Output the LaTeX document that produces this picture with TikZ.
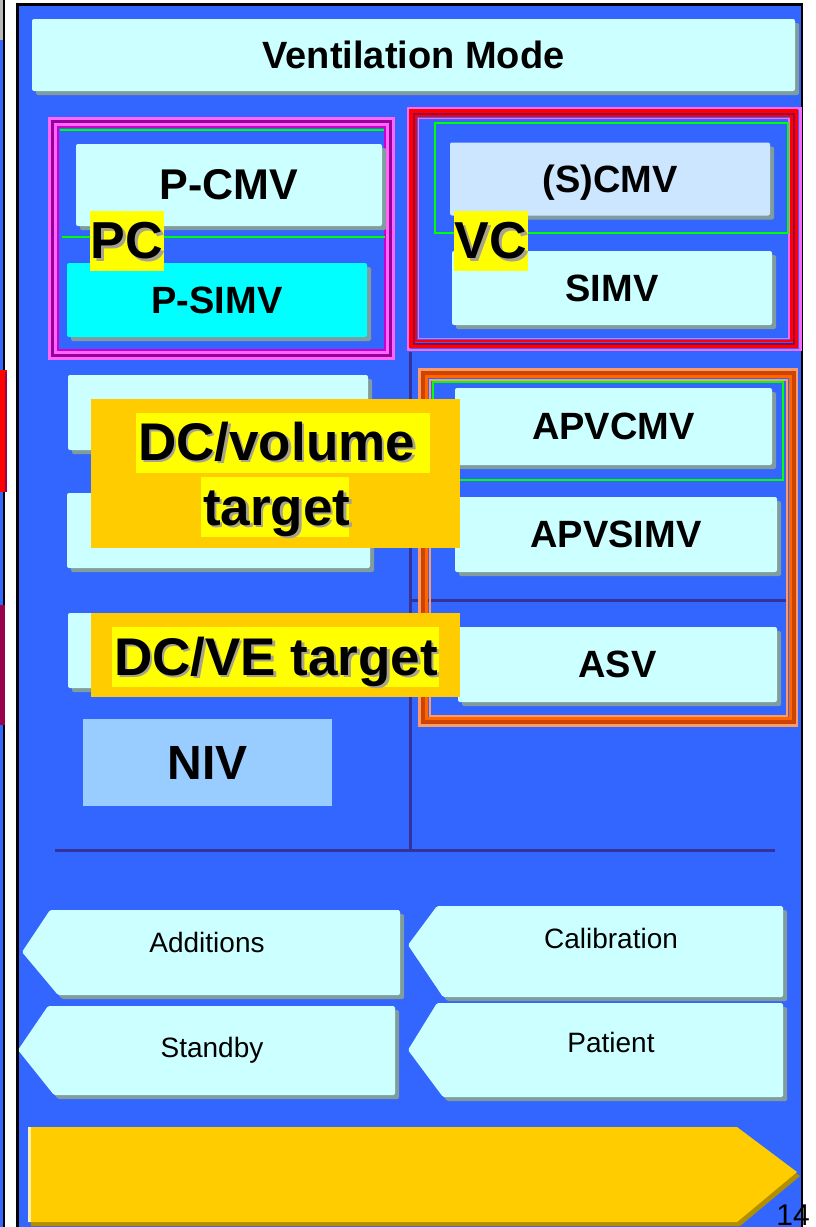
\documentclass[tikz,border=0pt]{standalone}
\usepackage{fontspec}
\setmainfont{Liberation Sans}
\usetikzlibrary{shadows}
\definecolor{panelblue}{HTML}{3366FF}
\definecolor{lightcyan}{HTML}{CCFFFF}
\definecolor{brightcyan}{HTML}{00FFFF}
\definecolor{shadowgrey}{HTML}{809C9C}
\definecolor{scmvblue}{HTML}{CCE6FF}
\definecolor{nivblue}{HTML}{99CCFF}
\definecolor{labelorange}{HTML}{FFCC00}
\definecolor{hlyellow}{HTML}{FFFF00}
\definecolor{sepline}{HTML}{333399}
\definecolor{greenline}{HTML}{00FF00}
\definecolor{framepink}{HTML}{FF66FF}
\definecolor{framepurple}{HTML}{990099}
\definecolor{framemag}{HTML}{CC00CC}
\definecolor{framered}{HTML}{FF0000}
\definecolor{framedarkred}{HTML}{99004C}
\definecolor{orlight}{HTML}{FF9966}
\definecolor{ormid}{HTML}{FF6600}
\definecolor{ordark}{HTML}{CC4400}
\definecolor{goldshadow}{HTML}{B38F00}
\definecolor{tshadow}{HTML}{A8A48C}
\newcommand\shadtxt[1]{\makebox[0pt][l]{\hspace{2.5pt}\raisebox{-2.5pt}{\color{tshadow}#1}}#1}
\newcommand\leftbox[2]{\makebox[#1][l]{\shadtxt{#2}}}
\begin{document}
\begin{tikzpicture}[x=1pt,y=-1pt,
  boxshadow/.style={drop shadow={shadow xshift=4pt,shadow yshift=-4pt,fill=shadowgrey,opacity=1}},
  modebox/.style={fill=lightcyan,rounded corners=2pt,inner sep=0pt,boxshadow,
    font=\bfseries\fontsize{38}{40}\selectfont,text height=26.2pt,text depth=0pt},
  tabbox/.style={fill=lightcyan,rounded corners=1.5pt,boxshadow},
  tabtext/.style={font=\fontsize{28}{30}\selectfont,anchor=base,inner sep=0pt},
  tag/.style={fill=hlyellow,inner sep=0pt,font=\bfseries\fontsize{52}{54}\selectfont,
    text height=35.8pt,text depth=0pt},
  hilite/.style={fill=hlyellow,inner xsep=2pt,inner ysep=0pt,anchor=base west,
    font=\bfseries\fontsize{53}{55}\selectfont},
  orangepad/.style={fill=labelorange,inner sep=0pt},
  sep/.style={draw=sepline,line width=3pt},
  gline/.style={draw=greenline,line width=2pt}]
\useasboundingbox (0,0) rectangle (815,1227);
\fill[white] (0,0) rectangle (815,1227);

% neighbouring slide edge on the left
\fill[panelblue] (0,0) rectangle (3.5,1227);
\fill[gray!55] (0,0) rectangle (3,40);
\fill[black] (3,0) rectangle (4.5,1227);
\fill[framered] (0,370) rectangle (6.5,492);
\fill[framedarkred] (4.5,372) rectangle (6.5,492);
\fill[framedarkred] (0,605) rectangle (4.5,725);

% main panel
\fill[panelblue] (18,5) rectangle (801,1227);
\fill[black] (16,3) rectangle (803,6);
\fill[black] (16,3) rectangle (19,1227);
\fill[black] (800.5,3) rectangle (803,1227);

% title bar
\node[modebox,minimum width=763pt,minimum height=72pt] (title) at (413.5,55) {Ventilation Mode};

% separators
\draw[sep] (410,352) -- (410,850);
\draw[sep] (55,850) -- (775,850);
\draw[sep] (410,600) -- (787,600);

% pressure-controlled group frame
\draw[framepink,line width=3pt] (49.5,118.5) rectangle (393.5,358.5);
\draw[framepurple,line width=3pt] (52.5,121.5) rectangle (390.5,355.5);
\draw[framepink,line width=2.5pt] (55.5,124.5) rectangle (387.5,352.5);
\draw[framemag,line width=1.5pt] (58,127) rectangle (385,350);
\draw[gline] (60,129.5) -- (384,129.5);
\draw[gline] (62,237) -- (385,237);

% volume-controlled group frame
\draw[framepink,line width=2.5pt] (408.5,108.5) rectangle (800.5,350);
\draw[framered,line width=3.5pt] (411,111) rectangle (796,346);
\draw[framedarkred,line width=2pt] (413.5,113.5) rectangle (794,343.5);
\draw[framered,line width=2.5pt] (416,116) rectangle (791.5,341);
\draw[framepink,line width=1.5pt] (418.5,118.5) rectangle (789,338.5);
\draw[gline] (435,123) rectangle (788,233);

% adaptive group frame
\draw[orlight,line width=3pt] (419.5,369.5) rectangle (796.5,725.5);
\draw[ordark,line width=4pt] (423,373) rectangle (794,722);
\draw[ormid,line width=3pt] (426.5,376.5) rectangle (790,718.5);
\draw[orlight,line width=2pt] (429.5,379.5) rectangle (786.5,715.5);
\draw[gline] (433,382) rectangle (783,480);

% mode buttons
\node[modebox,minimum width=306pt,minimum height=82pt,font=\bfseries\fontsize{43}{45}\selectfont,text height=29.6pt] (pcmv) at (229,185) {P-CMV};
\node[modebox,fill=brightcyan,minimum width=300pt,minimum height=74pt] (psimv) at (217,300) {P-SIMV};
\node[modebox,fill=scmvblue,minimum width=320pt,minimum height=73pt] (scmv) at (610,179) {(S)CMV};
\node[modebox,minimum width=320pt,minimum height=74pt] (simv) at (612,288) {SIMV};
\node[modebox,minimum width=317pt,minimum height=77pt] (apvcmv) at (613.5,426.5) {APVCMV};
\node[modebox,minimum width=322pt,minimum height=75pt] (apvsimv) at (616,534.5) {APVSIMV};
\node[modebox,minimum width=319pt,minimum height=75pt] (asv) at (617.5,664.5) {ASV};
\node[modebox,minimum width=300pt,minimum height=75pt] (left1) at (218,412.5) {};
\node[modebox,minimum width=303pt,minimum height=75pt] (left2) at (218.5,530.5) {};
\node[modebox,minimum width=302pt,minimum height=75pt] (left3) at (219,650.5) {};
\node[fill=nivblue,inner sep=0pt,minimum width=249pt,minimum height=87pt,
  font=\bfseries\fontsize{48}{50}\selectfont,text height=33pt,text depth=0pt] (niv) at (207.5,762.5) {NIV};

% group tags
\node[tag,minimum width=74pt,minimum height=60pt] (pc) at (127,241) {\shadtxt{PC}};
\node[tag,minimum width=74pt,minimum height=60pt] (vc) at (491,241) {\shadtxt{VC}};

% dual-control labels
\node[orangepad,minimum width=369pt,minimum height=149pt] (dcvolpad) at (275.5,473.5) {};
\node[hilite,text height=47pt,text depth=13pt] (dcvol1) at (136,460) {\leftbox{290pt}{DC/volume}};
\node[hilite,text height=48pt,text depth=12pt] (dcvol2) at (201,525) {\leftbox{144pt}{target}};
\node[orangepad,minimum width=369pt,minimum height=84pt] (dcvepad) at (275.5,655) {};
\node[hilite,text height=48pt,text depth=12pt] (dcve) at (112,675) {\leftbox{323pt}{DC/VE target}};

% navigation tabs
\path[tabbox] (22,952) -- (50,910) -- (400,910) -- (400,995) -- (58,995) -- cycle;
\node[tabtext] (additions) at (207,952) {Additions};
\path[tabbox] (408,945) -- (437,906) -- (783,906) -- (783,997) -- (443,997) -- cycle;
\node[tabtext] (calibration) at (611,948) {Calibration};
\path[tabbox] (18,1050) -- (48,1006) -- (395,1006) -- (395,1095) -- (54,1095) -- cycle;
\node[tabtext] (standby) at (212,1057) {Standby};
\path[tabbox] (408,1050) -- (437,1003) -- (783,1003) -- (783,1097) -- (443,1097) -- cycle;
\node[tabtext] (patient) at (611,1052) {Patient};

% bottom action bar
\fill[goldshadow] (31,1131) -- (740,1131) -- (800,1176) -- (740,1226) -- (31,1226) -- cycle;
\fill[labelorange] (28,1127) -- (737,1127) -- (797,1172) -- (737,1222) -- (28,1222) -- cycle;
\fill[white!70!labelorange] (28,1127) rectangle (31,1222);

% page number
\node[font=\fontsize{30}{30}\selectfont,anchor=base,inner sep=0pt] (pageno) at (793,1225) {14};
\end{tikzpicture}
\end{document}
